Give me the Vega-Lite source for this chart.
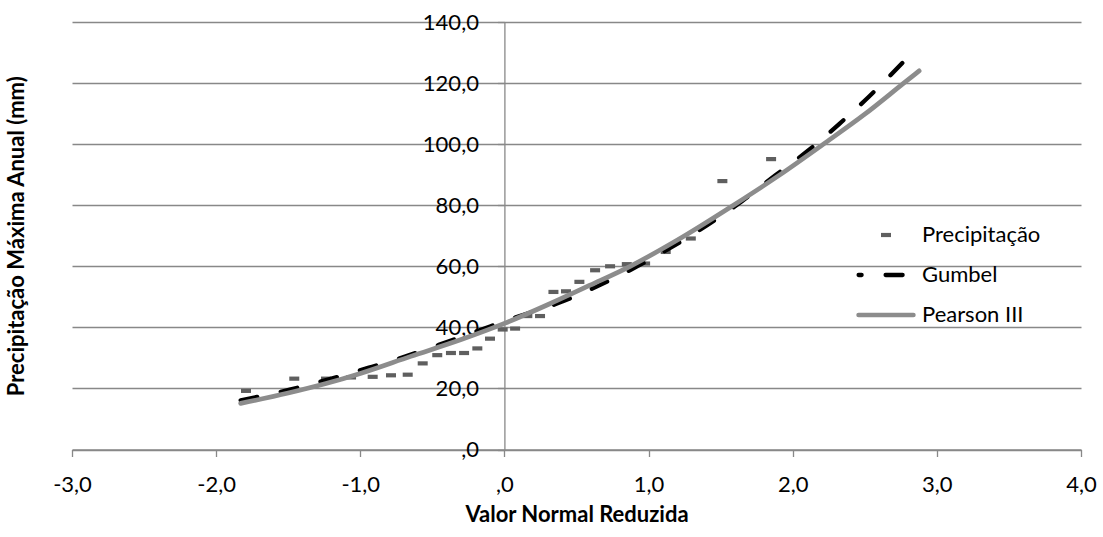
{
  "$schema": "https://vega.github.io/schema/vega-lite/v6.json",
  "width": 1009,
  "height": 427.5,
  "autosize": {"type": "none"},
  "padding": {"left": 72, "top": 22, "right": 22, "bottom": 87.5},
  "background": "white",
  "config": {
    "view": {"stroke": null},
    "font": "Lato",
    "axis": {
      "labelFont": "Lato", "titleFont": "Lato",
      "labelFontSize": 22, "titleFontSize": 22,
      "labelColor": "#000000", "titleColor": "#000000",
      "domainColor": "#888888", "tickColor": "#888888", "gridColor": "#888888",
      "domainWidth": 1.3, "tickWidth": 1.3, "gridWidth": 1.3, "gridOpacity": 1,
      "titleFontWeight": "bold"
    }
  },
  "datasets": {
    "pts": [
      {"serie": "Precipitação", "v": -1.793, "p": 19.2},
      {"serie": "Precipitação", "v": -1.458, "p": 23.2},
      {"serie": "Precipitação", "v": -1.238, "p": 23.2},
      {"serie": "Precipitação", "v": -1.064, "p": 23.6},
      {"serie": "Precipitação", "v": -0.914, "p": 23.8},
      {"serie": "Precipitação", "v": -0.787, "p": 24.3},
      {"serie": "Precipitação", "v": -0.671, "p": 24.5},
      {"serie": "Precipitação", "v": -0.567, "p": 28.2},
      {"serie": "Precipitação", "v": -0.466, "p": 30.9},
      {"serie": "Precipitação", "v": -0.371, "p": 31.6},
      {"serie": "Precipitação", "v": -0.28, "p": 31.6},
      {"serie": "Precipitação", "v": -0.188, "p": 33.1},
      {"serie": "Precipitação", "v": -0.1, "p": 36.3},
      {"serie": "Precipitação", "v": -0.012, "p": 39.3},
      {"serie": "Precipitação", "v": 0.074, "p": 39.6},
      {"serie": "Precipitação", "v": 0.159, "p": 43.7},
      {"serie": "Precipitação", "v": 0.247, "p": 43.7},
      {"serie": "Precipitação", "v": 0.34, "p": 51.6},
      {"serie": "Precipitação", "v": 0.427, "p": 51.8},
      {"serie": "Precipitação", "v": 0.52, "p": 54.9},
      {"serie": "Precipitação", "v": 0.629, "p": 58.7},
      {"serie": "Precipitação", "v": 0.733, "p": 60.0},
      {"serie": "Precipitação", "v": 0.849, "p": 60.7},
      {"serie": "Precipitação", "v": 0.976, "p": 60.9},
      {"serie": "Precipitação", "v": 1.119, "p": 64.7},
      {"serie": "Precipitação", "v": 1.293, "p": 69.1},
      {"serie": "Precipitação", "v": 1.512, "p": 87.9},
      {"serie": "Precipitação", "v": 1.85, "p": 95.1}
    ],
    "gumbel": [
      {"serie": "Gumbel", "v": -1.83, "p": 16.1},
      {"serie": "Gumbel", "v": -1.49, "p": 19.6},
      {"serie": "Gumbel", "v": -1.2, "p": 23.2},
      {"serie": "Gumbel", "v": -0.94, "p": 26.8},
      {"serie": "Gumbel", "v": -0.68, "p": 30.6},
      {"serie": "Gumbel", "v": -0.4, "p": 35.2},
      {"serie": "Gumbel", "v": -0.1, "p": 40.3},
      {"serie": "Gumbel", "v": 0.1, "p": 43.6},
      {"serie": "Gumbel", "v": 0.41, "p": 48.6},
      {"serie": "Gumbel", "v": 0.65, "p": 53.6},
      {"serie": "Gumbel", "v": 0.87, "p": 58.7},
      {"serie": "Gumbel", "v": 1.15, "p": 66.0},
      {"serie": "Gumbel", "v": 1.43, "p": 74.2},
      {"serie": "Gumbel", "v": 1.65, "p": 81.4},
      {"serie": "Gumbel", "v": 1.88, "p": 89.8},
      {"serie": "Gumbel", "v": 2.11, "p": 98.0},
      {"serie": "Gumbel", "v": 2.32, "p": 106.5},
      {"serie": "Gumbel", "v": 2.53, "p": 115.6},
      {"serie": "Gumbel", "v": 2.78, "p": 127.5}
    ],
    "pearson": [
      {"serie": "Pearson III", "v": -1.83, "p": 15.1},
      {"serie": "Pearson III", "v": -1.5, "p": 18.5},
      {"serie": "Pearson III", "v": -1.238, "p": 21.6},
      {"serie": "Pearson III", "v": -1.0, "p": 24.9},
      {"serie": "Pearson III", "v": -0.65, "p": 30.5},
      {"serie": "Pearson III", "v": -0.3, "p": 36.0},
      {"serie": "Pearson III", "v": 0.0, "p": 41.3},
      {"serie": "Pearson III", "v": 0.3, "p": 47.4},
      {"serie": "Pearson III", "v": 0.594, "p": 53.8},
      {"serie": "Pearson III", "v": 0.872, "p": 60.0},
      {"serie": "Pearson III", "v": 1.2, "p": 68.6},
      {"serie": "Pearson III", "v": 1.589, "p": 80.0},
      {"serie": "Pearson III", "v": 1.9, "p": 89.6},
      {"serie": "Pearson III", "v": 2.213, "p": 100.0},
      {"serie": "Pearson III", "v": 2.5, "p": 109.8},
      {"serie": "Pearson III", "v": 2.768, "p": 119.9},
      {"serie": "Pearson III", "v": 2.877, "p": 124.0}
    ]
  },
  "encoding": {
    "x": {
      "field": "v", "type": "quantitative",
      "scale": {"domain": [-3, 4], "nice": false, "zero": false},
      "axis": {
        "values": [-3, -2, -1, 0, 1, 2, 3, 4],
        "grid": false, "tickSize": 7, "labelPadding": 18, "titlePadding": 9,
        "labelFlush": false, "labelOverlap": false,
        "labelExpr": "datum.value == 0 ? ',0' : (datum.value < 0 ? '-' : '') + replace(format(abs(datum.value), '.1f'), '.', ',')",
        "title": "Valor Normal Reduzida"
      }
    },
    "y": {
      "field": "p", "type": "quantitative",
      "scale": {"domain": [0, 140], "nice": false, "zero": false},
      "axis": {
        "values": [0, 20, 40, 60, 80, 100, 120, 140],
        "grid": true, "offset": -432.4, "tickSize": 7, "labelPadding": 19,
        "labelFlush": false, "labelOverlap": false,
        "labelExpr": "datum.value == 0 ? ',0' : replace(format(datum.value, '.1f'), '.', ',')",
        "title": "Precipitação Máxima Anual (mm)",
        "titleX": -488.4, "titleY": 213.75, "titleAngle": 270,
        "titleAlign": "center", "titleBaseline": "middle"
      }
    },
    "color": {
      "field": "serie", "type": "nominal",
      "scale": {"domain": ["Precipitação", "Gumbel", "Pearson III"], "range": ["#5f5f5f", "#000000", "#8c8c8c"]},
      "legend": {
        "title": null, "orient": "none", "legendX": 803, "legendY": 202,
        "labelFont": "Lato", "labelFontSize": 22, "labelColor": "#000000",
        "symbolType": "stroke", "symbolSize": 100, "symbolStrokeWidth": 4.5,
        "rowPadding": 18, "labelOffset": 25, "labelLimit": 300,
        "encode": {
          "symbols": {
            "update": {
              "shape": {"signal": "datum.value === 'Precipitação' ? 'M-1,-0.42H1V0.42H-1Z' : 'stroke'"},
              "size": {"signal": "datum.value === 'Precipitação' ? 100 : 3000"},
              "fill": {"signal": "datum.value === 'Precipitação' ? '#5f5f5f' : 'transparent'"},
              "stroke": {"signal": "datum.value === 'Precipitação' ? 'transparent' : (datum.value === 'Gumbel' ? '#000000' : '#8c8c8c')"},
              "strokeWidth": {"signal": "datum.value === 'Precipitação' ? 0 : (datum.value === 'Gumbel' ? 4.3 : 4.7)"},
              "strokeDash": {"signal": "datum.value === 'Gumbel' ? [17, 24] : [1, 0]"},
              "strokeDashOffset": {"signal": "datum.value === 'Gumbel' ? 14 : 0"},
              "strokeCap": {"value": "round"},
              "opacity": {"value": 1}
            }
          }
        }
      }
    }
  },
  "layer": [
    {
      "data": {"name": "pts"},
      "mark": {"type": "point", "shape": "M-1,-0.42H1V0.42H-1Z", "size": 100, "filled": true, "opacity": 1, "strokeWidth": 0}
    },
    {
      "data": {"name": "gumbel"},
      "mark": {"type": "line", "strokeWidth": 4.3, "strokeDash": [17, 24], "strokeCap": "round", "interpolate": "monotone"}
    },
    {
      "data": {"name": "pearson"},
      "mark": {"type": "line", "strokeWidth": 4.7, "strokeCap": "round", "interpolate": "monotone"}
    }
  ]
}
